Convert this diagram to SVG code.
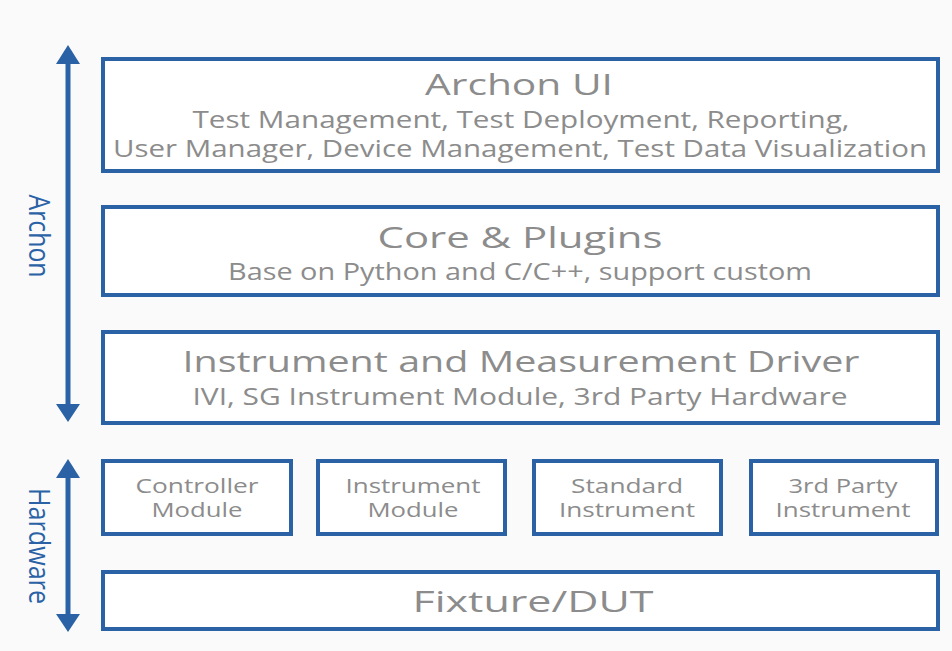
<svg xmlns="http://www.w3.org/2000/svg" width="952" height="651" viewBox="0 0 952 651">
<defs>
<style>
.box{fill:#ffffff;stroke:#2b62a6;stroke-width:4}
.t{font-family:"Open Sans","Liberation Sans",sans-serif;fill:#8c8c8c;text-anchor:middle}
.h{font-size:30px}
.s{font-size:23px}
.m{font-size:20px}
.side{font-family:"Open Sans","Liberation Sans",sans-serif;fill:#2b62a6;font-size:30px;text-anchor:middle}
.ax{stroke:#2b62a6;stroke-width:5;fill:none}
.hd{fill:#2b62a6}
</style>
</defs>
<rect width="952" height="651" fill="#fafafa"/>
<g id="connectors">
<line class="ax" x1="68" y1="60" x2="68" y2="408"/>
<polygon class="hd" points="68,45 56,64 80,64"/>
<polygon class="hd" points="68,422 56,404 80,404"/>
<line class="ax" x1="68" y1="474" x2="68" y2="618"/>
<polygon class="hd" points="68,459 56,478 80,478"/>
<polygon class="hd" points="68,632 56,614 80,614"/>
</g>
<g id="label-archon"><text class="side" transform="translate(29,236) rotate(90)" textLength="83" lengthAdjust="spacingAndGlyphs">Archon</text></g>
<g id="label-hardware"><text class="side" transform="translate(29,546) rotate(90)" textLength="116" lengthAdjust="spacingAndGlyphs">Hardware</text></g>
<g id="archon-ui">
<rect class="box" x="103" y="59" width="835" height="112"/>
<text class="t h" x="519" y="95" textLength="188" lengthAdjust="spacingAndGlyphs">Archon UI</text>
<text class="t s" x="521" y="128" textLength="657" lengthAdjust="spacingAndGlyphs">Test Management, Test Deployment, Reporting,</text>
<text class="t s" x="520" y="157" textLength="814" lengthAdjust="spacingAndGlyphs">User Manager, Device Management, Test Data Visualization</text>
</g>
<g id="core-plugins">
<rect class="box" x="103" y="207" width="835" height="88"/>
<text class="t h" x="520" y="248" textLength="285" lengthAdjust="spacingAndGlyphs">Core &amp; Plugins</text>
<text class="t s" x="520" y="280" textLength="584" lengthAdjust="spacingAndGlyphs">Base on Python and C/C++, support custom</text>
</g>
<g id="driver">
<rect class="box" x="103" y="332" width="835" height="91"/>
<text class="t h" x="521" y="372" textLength="677" lengthAdjust="spacingAndGlyphs">Instrument and Measurement Driver</text>
<text class="t s" x="520" y="405" textLength="655" lengthAdjust="spacingAndGlyphs">IVI, SG Instrument Module, 3rd Party Hardware</text>
</g>
<g id="controller-module">
<rect class="box" x="103" y="461" width="188" height="73"/>
<text class="t m" x="197" y="493" textLength="123" lengthAdjust="spacingAndGlyphs">Controller</text>
<text class="t m" x="197" y="517" textLength="91" lengthAdjust="spacingAndGlyphs">Module</text>
</g>
<g id="instrument-module">
<rect class="box" x="318" y="461" width="187" height="73"/>
<text class="t m" x="413" y="493" textLength="135" lengthAdjust="spacingAndGlyphs">Instrument</text>
<text class="t m" x="413" y="517" textLength="91" lengthAdjust="spacingAndGlyphs">Module</text>
</g>
<g id="standard-instrument">
<rect class="box" x="534" y="461" width="187" height="73"/>
<text class="t m" x="627" y="493" textLength="112" lengthAdjust="spacingAndGlyphs">Standard</text>
<text class="t m" x="627" y="517" textLength="136" lengthAdjust="spacingAndGlyphs">Instrument</text>
</g>
<g id="third-party-instrument">
<rect class="box" x="751" y="461" width="186" height="73"/>
<text class="t m" x="843" y="493" textLength="109" lengthAdjust="spacingAndGlyphs">3rd Party</text>
<text class="t m" x="843" y="517" textLength="135" lengthAdjust="spacingAndGlyphs">Instrument</text>
</g>
<g id="fixture-dut">
<rect class="box" x="103" y="572" width="835" height="57"/>
<text class="t h" x="533" y="612" textLength="241" lengthAdjust="spacingAndGlyphs">Fixture/DUT</text>
</g>
</svg>
